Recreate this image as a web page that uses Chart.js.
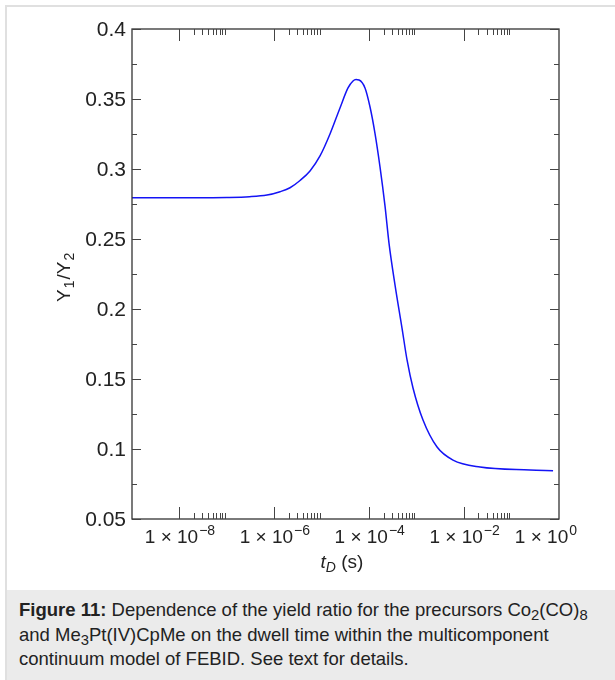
<!DOCTYPE html>
<html>
<head>
<meta charset="utf-8">
<script src="https://cdn.jsdelivr.net/npm/chart.js@4/dist/chart.umd.min.js"></script>
<style>
  html, body { margin: 0; padding: 0; background: #fff; width: 615px; height: 680px; overflow: hidden; }
  #frame { position: absolute; left: 5px; top: 5px; width: 640px; height: 700px;
           border-left: 2px solid #e0e0e0; border-top: 2px solid #e0e0e0; }
  #wrap { position: absolute; left: 0; top: 0; width: 615px; height: 590px; }
  #caption { position: absolute; left: 7px; top: 590px; width: 608px; height: 90px;
             background: #ebebeb; box-sizing: border-box; padding: 8px 16px 0 12px;
             font-family: "Liberation Sans", Arial, sans-serif; font-size: 18.5px; line-height: 24.5px; color: #222; }
  #caption sub { font-size: 0.8em; line-height: 0; vertical-align: -0.25em; }
</style>
</head>
<body>
<div id="frame"></div>
<div id="wrap"><canvas id="ratioChart" width="615" height="590"></canvas></div>
<div id="caption"><b>Figure 11:</b> Dependence of the yield ratio for the precursors Co<sub>2</sub>(CO)<sub>8</sub> and Me<sub>3</sub>Pt(IV)CpMe on the dwell time within the multicomponent continuum model of FEBID. See text for details.</div>
<script>
// dwell time t_D (s) and yield ratio Y1/Y2
const dwellTime = [1e-9, 1e-8, 1e-7, 3e-7, 7e-7, 1.32e-6, 2.14e-6, 3.48e-6, 5.65e-6, 9.18e-6, 1.49e-5,
                   2.42e-5, 3.57e-5, 4.55e-5, 5.27e-5, 6.1e-5, 8.15e-5, 1.04e-4, 1.32e-4, 1.69e-4,
                   2.15e-4, 2.61e-4, 3.5e-4, 4.91e-4, 6.27e-4, 8.37e-4, 1.36e-3, 2.69e-3, 5.83e-3,
                   2.17e-2, 0.245, 0.75];
const yieldRatio = [0.2795, 0.2795, 0.2797, 0.2802, 0.2814, 0.2838, 0.2866, 0.2918, 0.2986, 0.3093, 0.325,
                    0.3436, 0.3579, 0.3629, 0.3639, 0.3636, 0.3579, 0.3443, 0.3257, 0.3014,
                    0.2736, 0.2471, 0.2171, 0.1864, 0.1636, 0.1436, 0.1207, 0.1014, 0.0921,
                    0.0871, 0.085, 0.0845];
const yTickValues = [0.05, 0.1, 0.15, 0.2, 0.25, 0.3, 0.35, 0.4];
const yTickLabels = ['0.05', '0.1', '0.15', '0.2', '0.25', '0.3', '0.35', '0.4'];
const xMajorExps = [-8, -6, -4, -2];       // long ticks + minor ticks 2..9 in that decade
const xLabelExps = [-8, -6, -4, -2, 0];

const FONT = '"Liberation Sans", Arial, sans-serif';

const axesPlugin = {
  id: 'axesPlugin',
  afterDraw(chart) {
    const ctx = chart.ctx;
    const a = chart.chartArea;
    const xs = chart.scales.x, ys = chart.scales.y;
    ctx.save();
    ctx.strokeStyle = '#333';
    ctx.lineWidth = 1.3;
    ctx.strokeRect(a.left, a.top, a.right - a.left, a.bottom - a.top);

    ctx.lineWidth = 1;
    ctx.strokeStyle = '#444';
    const tick = (x1, y1, x2, y2) => { ctx.beginPath(); ctx.moveTo(x1, y1); ctx.lineTo(x2, y2); ctx.stroke(); };

    // x ticks, top and bottom, pointing inward
    xMajorExps.forEach(e => {
      const px = Math.round(xs.getPixelForValue(Math.pow(10, e))) + 0.5;
      tick(px, a.bottom, px, a.bottom - 12);
      tick(px, a.top, px, a.top + 12);
      for (let m = 2; m <= 9; m++) {
        const mx = Math.round(xs.getPixelForValue(m * Math.pow(10, e))) + 0.5;
        tick(mx, a.bottom, mx, a.bottom - 6);
        tick(mx, a.top, mx, a.top + 6);
      }
    });

    // y ticks, left and right
    yTickValues.forEach((v, i) => {
      const py = Math.round(ys.getPixelForValue(v)) + 0.5;
      tick(a.left, py, a.left + 9, py);
      tick(a.right, py, a.right - 9, py);
      if (i < yTickValues.length - 1) {
        const my = Math.round(ys.getPixelForValue(v + 0.025)) + 0.5;
        tick(a.left, my, a.left + 5, my);
        tick(a.right, my, a.right - 5, my);
      }
    });

    // y labels
    ctx.fillStyle = '#222';
    ctx.font = '21px ' + FONT;
    ctx.textAlign = 'right';
    ctx.textBaseline = 'middle';
    yTickValues.forEach((v, i) => {
      ctx.fillText(yTickLabels[i], a.left - 6, ys.getPixelForValue(v) + 1);
    });

    // x labels: 1 × 10^e
    ctx.textBaseline = 'alphabetic';
    ctx.textAlign = 'left';
    xLabelExps.forEach(e => {
      const base = '1 \u00d7 10';
      const sup = (e < 0 ? '\u2212' : '') + Math.abs(e);
      ctx.font = '19px ' + FONT;
      const wb = ctx.measureText(base).width;
      ctx.font = '14px ' + FONT;
      const ws = ctx.measureText(sup).width;
      const cx = xs.getPixelForValue(Math.pow(10, e));
      let left = cx - (wb + ws) / 2;
      if (e === 0) left = a.right + 17 - (wb + ws);
      ctx.font = '19px ' + FONT;
      ctx.fillText(base, left, a.bottom + 24);
      ctx.font = '14px ' + FONT;
      ctx.fillText(sup, left + wb + 1, a.bottom + 16);
    });

    // x title: t_D (s)
    const tx = (a.left + a.right) / 2 - 25, ty = a.bottom + 49;
    ctx.font = 'italic 19px ' + FONT;
    ctx.fillText('t', tx, ty);
    const wt = ctx.measureText('t').width;
    ctx.font = 'italic 14px ' + FONT;
    ctx.fillText('D', tx + wt, ty + 4);
    const wd = ctx.measureText('D').width;
    ctx.font = '19px ' + FONT;
    ctx.fillText(' (s)', tx + wt + wd, ty);

    // y title: Y1/Y2 rotated
    ctx.translate(70, (a.top + a.bottom) / 2 + 28);
    ctx.rotate(-Math.PI / 2);
    let x0 = 0;
    const parts = [['Y', 19, 0], ['1', 14, 4], ['/Y', 19, 0], ['2', 14, 4]];
    parts.forEach(p => {
      ctx.font = p[1] + 'px ' + FONT;
      ctx.fillText(p[0], x0, p[2]);
      x0 += ctx.measureText(p[0]).width + 1;
    });
    ctx.restore();
  }
};

const ctx = document.getElementById('ratioChart').getContext('2d');
const ratioChart = new Chart(ctx, {
  type: 'line',
  data: {
    datasets: [{
      data: dwellTime.map((t, i) => ({ x: t, y: yieldRatio[i] })),
      borderColor: '#1414f5',
      borderWidth: 1.5,
      pointRadius: 0,
      fill: false,
      cubicInterpolationMode: 'monotone'
    }]
  },
  options: {
    responsive: false,
    animation: false,
    layout: { padding: { left: 132, top: 29, right: 56, bottom: 71 } },
    plugins: { legend: { display: false }, tooltip: { enabled: false } },
    scales: {
      x: { type: 'logarithmic', min: 1e-9, max: 1, display: false },
      y: { type: 'linear', min: 0.05, max: 0.4, display: false }
    }
  },
  plugins: [axesPlugin]
});
</script>
</body>
</html>
